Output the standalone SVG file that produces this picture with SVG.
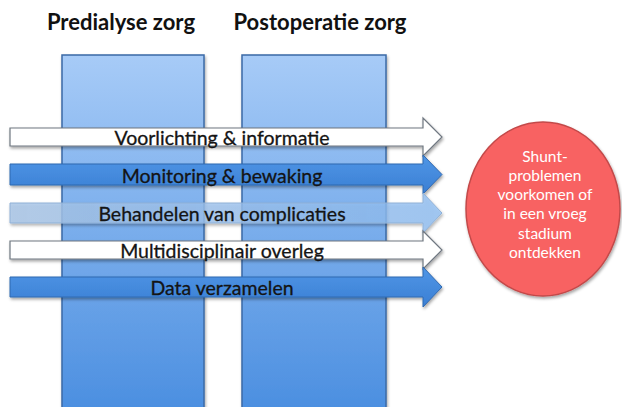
<svg xmlns="http://www.w3.org/2000/svg" width="622" height="407" viewBox="0 0 622 407">
<defs>
<linearGradient id="colG" x1="0" y1="0" x2="0" y2="1">
<stop offset="0" stop-color="#a7cbf7"/>
<stop offset="1" stop-color="#4a8ee0"/>
</linearGradient>
<linearGradient id="blueA" x1="0" y1="0" x2="0" y2="1">
<stop offset="0" stop-color="#5096e6"/>
<stop offset="1" stop-color="#3a7fd4"/>
</linearGradient>
<linearGradient id="fadeA" x1="0" y1="0" x2="1" y2="0">
<stop offset="0" stop-color="#a9c6e8" stop-opacity="0.8"/>
<stop offset="1" stop-color="#8fbff5" stop-opacity="0.75"/>
</linearGradient>
<filter id="sh" x="-5%" y="-20%" width="110%" height="150%">
<feDropShadow dx="1" dy="2" stdDeviation="1.5" flood-color="#000" flood-opacity="0.35"/>
</filter>
</defs>
<style>
.title{font-family:Lato,"Liberation Sans",sans-serif;font-weight:bold;font-size:22px;fill:#111;text-anchor:middle}
.lbl{font-family:Lato,"Liberation Sans",sans-serif;font-size:19.5px;fill:#141414;stroke:#141414;stroke-width:0.3;text-anchor:middle}
.col{fill:url(#colG);stroke:#3b6aa6;stroke-width:1.5}
.white{fill:#ffffff;stroke:#6f7780;stroke-width:1.2}
.blue{fill:url(#blueA);stroke:#2f68b0;stroke-width:1}
.fade{fill:url(#fadeA);stroke:#8fb0d6;stroke-width:1}
.ctext{font-family:Lato,"Liberation Sans",sans-serif;font-size:15.5px;fill:#ffffff;text-anchor:middle}
</style>
<rect width="622" height="407" fill="#ffffff"/>
<g id="title-predialyse"><text class="title" x="121" y="30">Predialyse zorg</text></g>
<g id="title-postoperatie"><text class="title" x="320" y="30">Postoperatie zorg</text></g>
<g id="col-predialyse"><rect class="col" x="62" y="55" width="142" height="360" filter="url(#sh)"/></g>
<g id="col-postoperatie"><rect class="col" x="242" y="55" width="144" height="360" filter="url(#sh)"/></g>
<g id="connectors">
<g id="arrow-voorlichting">
<path class="white" filter="url(#sh)" d="M10,128 H423 V118 L442,137 L423,156 V146 H10 Z"/>
<text class="lbl" x="222" y="145">Voorlichting &amp; informatie</text>
</g>
<g id="arrow-monitoring">
<path class="blue" filter="url(#sh)" d="M10,164 H423 V155 L442,174.5 L423,194 V185 H10 Z"/>
<text class="lbl" x="222" y="183">Monitoring &amp; bewaking</text>
</g>
<g id="arrow-behandelen">
<path class="fade" filter="url(#sh)" d="M10,203 H423 V193 L442,213 L423,233 V223 H10 Z"/>
<text class="lbl" x="222" y="221">Behandelen van complicaties</text>
</g>
<g id="arrow-multidisciplinair">
<path class="white" filter="url(#sh)" d="M10,241 H423 V231 L442,250 L423,269 V259 H10 Z"/>
<text class="lbl" x="222" y="258">Multidisciplinair overleg</text>
</g>
<g id="arrow-data">
<path class="blue" filter="url(#sh)" d="M10,277 H423 V267 L442,287 L423,307 V297 H10 Z"/>
<text class="lbl" x="222" y="295">Data verzamelen</text>
</g>
</g>
<g id="goal">
<ellipse cx="543" cy="209" rx="77" ry="87" fill="#f86262" stroke="#c34a4a" stroke-width="1.5" filter="url(#sh)"/>
<text class="ctext" x="545" y="162">Shunt-</text>
<text class="ctext" x="545" y="181">problemen</text>
<text class="ctext" x="545" y="200">voorkomen of</text>
<text class="ctext" x="545" y="219">in een vroeg</text>
<text class="ctext" x="545" y="239">stadium</text>
<text class="ctext" x="545" y="258">ontdekken</text>
</g>
</svg>
